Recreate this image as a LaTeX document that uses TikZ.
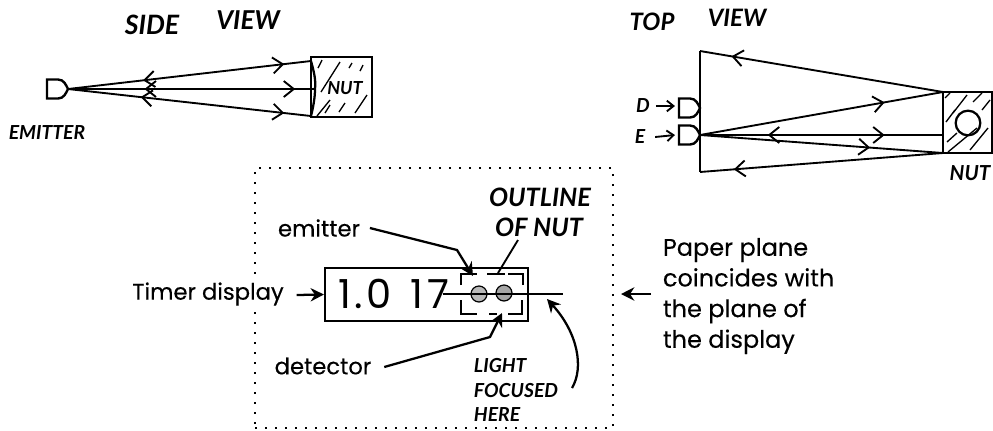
\documentclass[tikz,border=0pt]{standalone}
\usepackage{fontspec}
\setmainfont{Poppins}
\newfontfamily\typefont{Poppins}[FakeBold=0.25]
\newfontfamily\handfont{Lato}
\usetikzlibrary{positioning, arrows.meta, decorations.markings}

\begin{document}
\begin{tikzpicture}[
		x=0.75pt, y=-0.75pt,
		>={Straight Barb[length=7.5pt,width=12pt,line width=1.4pt]},
		line width=1.4pt,
		hand/.style={font=\handfont\bfseries\itshape\fontsize{#1}{#1}\selectfont, inner sep=0pt, align=left},
		hand/.default=14.5,
		type/.style={font=\typefont\fontsize{#1}{23}\selectfont, inner sep=0pt, align=left},
		type/.default=17,
		fwd/.style={postaction={decorate, decoration={markings, mark=at position #1 with {\arrow{>}}}}},
		back/.style={postaction={decorate, decoration={markings, mark=at position #1 with {\arrow{<}}}}},
		pointer/.style={-{Stealth[length=10pt,width=10pt]}, line width=1.7pt},
		sensor/.pic={\draw[line width=1.8pt] (-21,-9.5) -- (-10,-9.5) .. controls (-4,-9.5) and (-2,-4) .. (0,0) .. controls (-2,4) and (-4,9.5) .. (-10,9.5) -- (-21,9.5) -- cycle;}
		]
		\useasboundingbox (0,0) rectangle (993,430);
		
		% --- Side view ---
		\node[hand=20] (sideT) at (152,25) {SIDE};
		\node[hand=19.5] (sideV) at (248,20) {VIEW};
		\node[hand] (sideL) at (47,133) {EMITTER};
		\pic at (68,89) {sensor};
		\coordinate (sideE) at (68,89);
		\node[draw, line width=1.7pt, minimum width=45.75pt, minimum height=45pt, inner sep=0pt] (sideN) at (341.5,87) {};
		\node[hand=13.5] (sideM) at (345,88) {NUT};
		\coordinate (sideA) at (311,61);
		\coordinate (sideB) at (315,89);
		\coordinate (sideC) at (311,116);
		\draw[line width=1.7pt] (sideA) .. controls (314,72) and (316,80) .. (sideB) .. controls (315,98) and (313,108) .. (sideC);
		\draw[fwd=0.89, back=0.36] (sideE) -- (sideA);
		\draw[fwd=0.92, back=0.36] (sideE) -- (sideB);
		\draw[fwd=0.89, back=0.35] (sideE) -- (sideC);
		\foreach \xa/\ya/\xb/\yb in {318/68/322/60, 321/92/340/62, 349/68/352/63, 360/71/363/65, 317/116/330/100, 325/113/330/105, 339/112/345/103, 355/113/367/95}
			\draw[line width=1pt] (\xa,\ya) -- (\xb,\yb);
		
		% --- Top view ---
		\node[hand=18] (topT) at (652,22) {TOP};
		\node[hand=18] (topV) at (737,18) {VIEW};
		\node[hand] (topD) at (643,106) {D};
		\node[hand] (topE) at (640,137) {E};
		\node[hand=15.5] (topL) at (970,173) {NUT};
		\pic at (700,108) {sensor};
		\pic at (700,135) {sensor};
		\coordinate (topA) at (700,51);
		\coordinate (topB) at (700,172);
		\coordinate (topS) at (700,135);
		\node[draw, line width=1.7pt, minimum width=36.75pt, minimum height=45.75pt, inner sep=0pt] (topN) at (967.5,122.5) {};
		\coordinate (topC) at (943,92);
		\coordinate (topF) at (943,135);
		\coordinate (topG) at (943,153);
		\node[circle, draw, line width=1.7pt, minimum size=18.5pt, inner sep=0pt] (topH) at (968,123) {};
		\draw (topA) -- (topB);
		\draw[back=0.18] (topA) -- (topC);
		\draw[fwd=0.76] (topS) -- (topC);
		\draw[fwd=0.76, back=0.33] (topS) -- (topF);
		\draw[fwd=0.7] (topS) -- (topG);
		\draw[back=0.19] (topB) -- (topG);
		\draw[-{Straight Barb[length=5pt,width=8pt]}] (topD.east) ++(5,0) -- (675,106);
		\draw[-{Straight Barb[length=5pt,width=8pt]}] (topE.east) ++(9,0) -- (675,135);
		\foreach \xa/\ya/\xb/\yb in {945/98/950/93, 953/113/967/95, 973/102/982/93, 982/110/990/100, 946/122/955/110, 947/142/957/133, 948/152/977/128, 970/150/988/128}
			\draw[line width=1pt] (\xa,\ya) -- (\xb,\yb);
		
		% --- Display ---
		\node[draw, dash pattern=on 1.5pt off 6pt, line width=1.6pt, minimum width=268.5pt, minimum height=195pt, inner sep=0pt] (frame) at (434,298) {};
		\node[draw, line width=1.6pt, minimum width=152.25pt, minimum height=39.75pt, inner sep=0pt] (display) at (426.5,294.5) {};
		\node[font=\fontsize{30}{30}\selectfont, inner sep=0pt] (digits) at (394,294) {1\kern2pt.\kern3pt0\hspace{14pt}1\kern3pt7};
		\node[hand=19] (outA) at (540,197) {OUTLINE};
		\node[hand=19] (outB) at (539,227) {OF NUT};
		\node[hand=14.5] (light) at (516,390) {LIGHT\\[4pt]FOCUSED\\[4pt]HERE};
		\node[type] (emitter) at (319,228) {emitter};
		\node[type] (detector) at (323,366) {detector};
		\node[type, fill=white] (timer) at (208,294) {Timer display};
		\node[type=18, anchor=west] (plane) at (662,296) {Paper plane\\coincides with\\the plane of\\the display};
		
		\node[circle, draw, fill=gray!55, line width=0.9pt, minimum size=12pt, inner sep=0pt] (emit) at (479,294) {};
		\node[circle, draw, fill=gray!70, line width=0.9pt, minimum size=12pt, inner sep=0pt] (detect) at (504,293) {};
		\coordinate (beamL) at (443,294);
		\coordinate (beamR) at (563,294);
		\draw[line width=1.1pt] (beamL) -- (beamR);
		
		% --- Outline of nut, drawn in pieces ---
		\draw[line width=1.3pt] (461,285) -- (461,274) -- (477,274);
		\draw[line width=1.3pt] (487,274) -- (505,274);
		\draw[line width=1.3pt] (508,274) -- (523,274) -- (523,285);
		\draw[line width=1.3pt] (461,300) -- (461,314) -- (477,314);
		\draw[line width=1.3pt] (489,314) -- (497,314);
		\draw[line width=1.3pt] (508,314) -- (522,314) -- (522,300);
		
		% --- Pointers ---
		\coordinate (emitTip) at (473,276);
		\coordinate (detectTip) at (502,313);
		\coordinate (lightTip) at (547,299);
		\coordinate (outTip) at (498,273);
		\coordinate (outFoot) at (518,240);
		\coordinate (planeTip) at (621,294);
		\draw[pointer] (emitter.east) ++(9,0) -- (457,250) -- (emitTip);
		\draw[pointer] (detector.east) ++(12,1) -- (490,337) -- (detectTip);
		\draw[line width=1.4pt] (outFoot) -- (outTip);
		\draw[pointer] (572,388) .. controls (584,368) and (578,333) .. (lightTip);
		\draw[pointer] (timer.east) ++(12,1) -- (display.west);
		\draw[pointer] (plane.west) ++(-11,-2) -- (planeTip);
	\end{tikzpicture}
\end{document}
